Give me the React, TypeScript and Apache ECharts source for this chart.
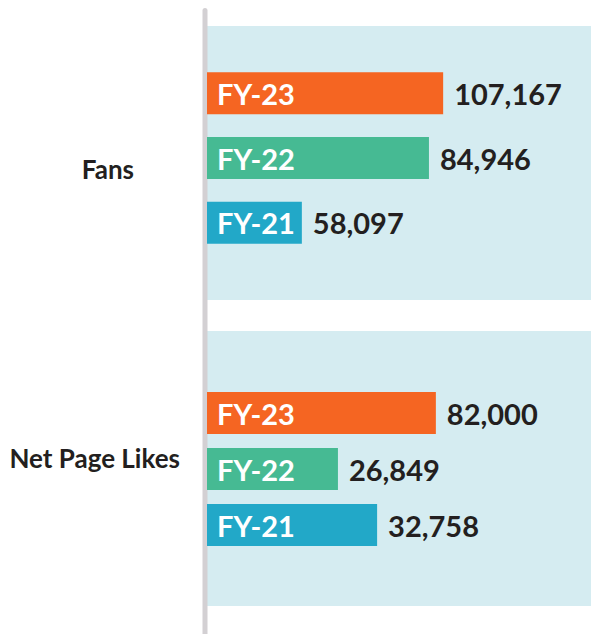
import React, { useEffect, useRef } from "react";
import * as echarts from "echarts";

const categories = ["Fans", "Net Page Likes"];
const fiscalYears = ["FY-23", "FY-22", "FY-21"];
const fansValues = [107167, 84946, 58097];
const netPageLikesValues = [82000, 26849, 32758];
// bar lengths as drawn in the picture (not to scale), in % of panel width
const fansBarLength = [61.5, 57.8, 24.7];
const netPageLikesBarLength = [59.6, 34.1, 44.3];
const yearColors = ["#F56522", "#46BA93", "#22A8C8"];

const FONT = "Lato, 'Open Sans', sans-serif";
const TEXT = "#231f20";

export default function App() {
  const ref = useRef<HTMLDivElement>(null);
  useEffect(() => {
    document.body.style.margin = "0";
    const chart = echarts.init(ref.current!, null, { renderer: "svg" });
    const fmt = (v: number) => v.toLocaleString("en-US");
    const grids = [
      { left: 207, right: 0, top: 61, height: 194 },
      { left: 207, right: 0, top: 385, height: 168 },
    ];
    const nameGaps = [73, 27];
    const nameVAlign = ["top", "bottom"];
    const valueSets = [fansValues, netPageLikesValues];
    const lenSets = [fansBarLength, netPageLikesBarLength];
    chart.setOption({
      animation: false,
      graphic: [
        { type: "rect", z: 0, shape: { x: 207, y: 26, width: 384, height: 274 }, style: { fill: "#D5ECF1" } },
        { type: "rect", z: 0, shape: { x: 207, y: 331, width: 384, height: 275 }, style: { fill: "#D5ECF1" } },
        { type: "line", z: 1, shape: { x1: 205, y1: 10.5, x2: 205, y2: 640 }, style: { stroke: "#D3D0D3", lineWidth: 5, lineCap: "round" } },
      ],
      grid: grids,
      xAxis: grids.map((_, i) => ({ type: "value", gridIndex: i, min: 0, max: 100, show: false })),
      yAxis: grids.map((_, i) => ({
        type: "category",
        gridIndex: i,
        inverse: true,
        data: fiscalYears,
        z: 10,
        name: categories[i],
        nameLocation: "middle",
        nameGap: nameGaps[i],
        nameRotate: 0,
        nameTextStyle: {
          fontSize: 26,
          fontWeight: "bold",
          color: TEXT,
          fontFamily: FONT,
          verticalAlign: nameVAlign[i],
          lineHeight: 22,
        },
        axisLine: { show: false },
        axisTick: { show: false },
        axisLabel: { inside: true, margin: 10, color: "#ffffff", fontSize: 29, fontWeight: "bold", fontFamily: FONT },
      })),
      series: grids.map((_, i) => ({
        type: "bar",
        xAxisIndex: i,
        yAxisIndex: i,
        barWidth: 42,
        data: lenSets[i],
        itemStyle: { color: (p: any) => yearColors[p.dataIndex] },
        label: {
          show: true,
          position: "right",
          distance: 11,
          color: TEXT,
          fontSize: 29,
          fontWeight: "bold",
          fontFamily: FONT,
          formatter: (p: any) => fmt(valueSets[i][p.dataIndex]),
        },
      })),
    });
    return () => chart.dispose();
  }, []);
  return <div ref={ref} style={{ width: 591, height: 634 }} />;
}
